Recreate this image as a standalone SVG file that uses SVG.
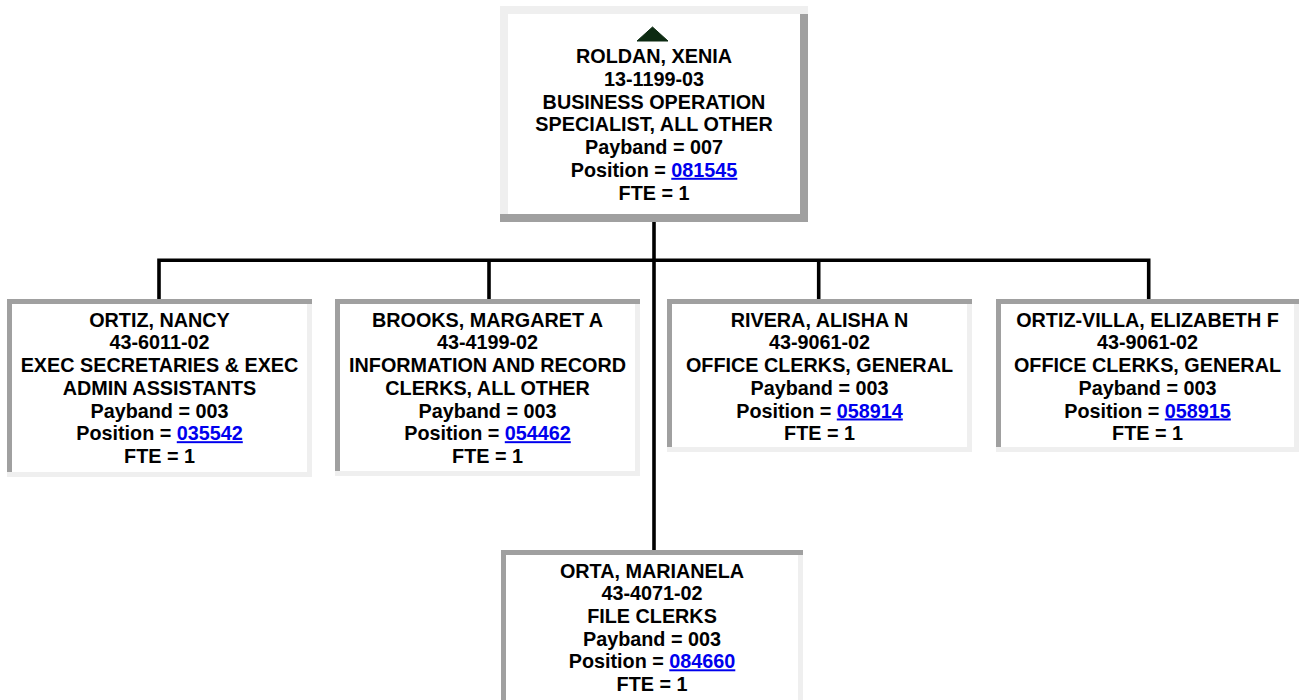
<svg xmlns="http://www.w3.org/2000/svg" width="1299" height="700" viewBox="0 0 1299 700">
<style>
.t{font-family:"Liberation Sans",Arial,sans-serif;font-weight:bold;font-size:19.8px;fill:#000;text-anchor:middle}
.lk{fill:#0000ee;text-decoration:underline}
.dk{fill:#a0a0a0}
.lt{fill:#efefef}
.in{fill:#fff}
.ln{fill:none;stroke:#000;stroke-width:3.6;stroke-linejoin:miter}
</style>
<rect x="0" y="0" width="1299" height="700" fill="#fff"/>
<g id="connectors">
<path class="ln" d="M654,222 V550"/>
<path class="ln" d="M159,299 V260.3 H1148.7 V299"/>
<path class="ln" d="M489,260.3 V299"/>
<path class="ln" d="M818.7,260.3 V299"/>
</g>
<g id="node-roldan">
<rect class="in" x="508" y="14" width="292" height="200"/>
<path class="lt" d="M500,6 H808 V14 H508 V214 H500 Z"/>
<path class="dk" d="M800,14 H808 V222 H500 V214 H800 Z"/>
<polygon points="652.5,27 637,41 668,41" fill="#0d2b12" stroke="#0d2b12" stroke-width="1" stroke-linejoin="round"/>
<text class="t" x="654" y="63.3">ROLDAN, XENIA</text>
<text class="t" x="654" y="86">13-1199-03</text>
<text class="t" x="654" y="108.7">BUSINESS OPERATION</text>
<text class="t" x="654" y="131.4">SPECIALIST, ALL OTHER</text>
<text class="t" x="654" y="154.1">Payband = 007</text>
<text class="t" x="654" y="176.8">Position = <tspan class="lk">081545</tspan></text>
<text class="t" x="654" y="199.5">FTE = 1</text>
</g>
<g id="node-ortiz">
<rect class="in" x="12" y="304" width="295" height="168"/>
<path class="dk" d="M7,299 H312 V304 H12 V472 H7 Z"/>
<path class="lt" d="M307,304 H312 V477 H7 V472 H307 Z"/>
<text class="t" x="159.5" y="326.7">ORTIZ, NANCY</text>
<text class="t" x="159.5" y="349.4">43-6011-02</text>
<text class="t" x="159.5" y="372.1">EXEC SECRETARIES &amp; EXEC</text>
<text class="t" x="159.5" y="394.8">ADMIN ASSISTANTS</text>
<text class="t" x="159.5" y="417.5">Payband = 003</text>
<text class="t" x="159.5" y="440.2">Position = <tspan class="lk">035542</tspan></text>
<text class="t" x="159.5" y="462.9">FTE = 1</text>
</g>
<g id="node-brooks">
<rect class="in" x="340" y="304" width="295" height="167"/>
<path class="dk" d="M335,299 H640 V304 H340 V471 H335 Z"/>
<path class="lt" d="M635,304 H640 V476 H335 V471 H635 Z"/>
<text class="t" x="487.5" y="326.7">BROOKS, MARGARET A</text>
<text class="t" x="487.5" y="349.4">43-4199-02</text>
<text class="t" x="487.5" y="372.1">INFORMATION AND RECORD</text>
<text class="t" x="487.5" y="394.8">CLERKS, ALL OTHER</text>
<text class="t" x="487.5" y="417.5">Payband = 003</text>
<text class="t" x="487.5" y="440.2">Position = <tspan class="lk">054462</tspan></text>
<text class="t" x="487.5" y="462.9">FTE = 1</text>
</g>
<g id="node-rivera">
<rect class="in" x="672" y="304" width="295" height="143"/>
<path class="dk" d="M667,299 H972 V304 H672 V447 H667 Z"/>
<path class="lt" d="M967,304 H972 V452 H667 V447 H967 Z"/>
<text class="t" x="819.5" y="326.7">RIVERA, ALISHA N</text>
<text class="t" x="819.5" y="349.4">43-9061-02</text>
<text class="t" x="819.5" y="372.1">OFFICE CLERKS, GENERAL</text>
<text class="t" x="819.5" y="394.8">Payband = 003</text>
<text class="t" x="819.5" y="417.5">Position = <tspan class="lk">058914</tspan></text>
<text class="t" x="819.5" y="440.2">FTE = 1</text>
</g>
<g id="node-ortiz-villa">
<rect class="in" x="1001" y="304" width="293" height="143"/>
<path class="dk" d="M996,299 H1299 V304 H1001 V447 H996 Z"/>
<path class="lt" d="M1294,304 H1299 V452 H996 V447 H1294 Z"/>
<text class="t" x="1147.5" y="326.7">ORTIZ-VILLA, ELIZABETH F</text>
<text class="t" x="1147.5" y="349.4">43-9061-02</text>
<text class="t" x="1147.5" y="372.1">OFFICE CLERKS, GENERAL</text>
<text class="t" x="1147.5" y="394.8">Payband = 003</text>
<text class="t" x="1147.5" y="417.5">Position = <tspan class="lk">058915</tspan></text>
<text class="t" x="1147.5" y="440.2">FTE = 1</text>
</g>
<g id="node-orta">
<rect class="in" x="506" y="555" width="292" height="150"/>
<path class="dk" d="M501,550 H803 V555 H506 V705 H501 Z"/>
<path class="lt" d="M798,555 H803 V710 H501 V705 H798 Z"/>
<text class="t" x="652" y="577.5">ORTA, MARIANELA</text>
<text class="t" x="652" y="600.2">43-4071-02</text>
<text class="t" x="652" y="622.9">FILE CLERKS</text>
<text class="t" x="652" y="645.6">Payband = 003</text>
<text class="t" x="652" y="668.3">Position = <tspan class="lk">084660</tspan></text>
<text class="t" x="652" y="691">FTE = 1</text>
</g>
</svg>
